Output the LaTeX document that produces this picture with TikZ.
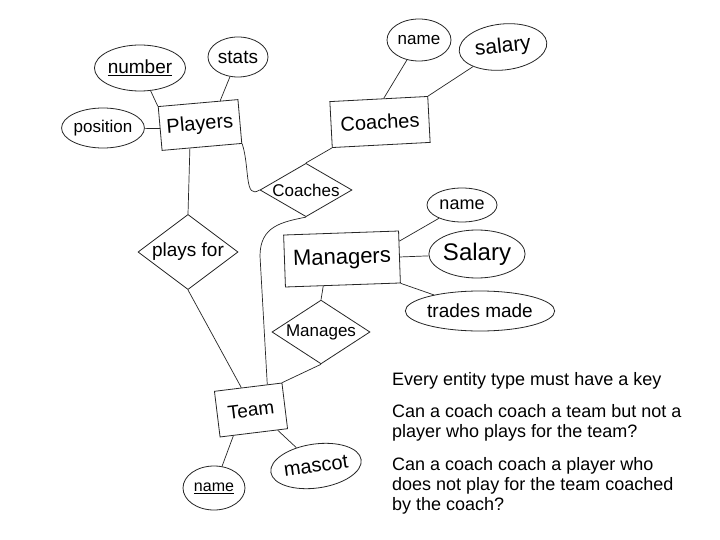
\documentclass[tikz,border=0pt]{standalone}
\usepackage{fontspec}
\setmainfont{Liberation Sans}
\usetikzlibrary{shapes.geometric,calc}
\begin{document}
\begin{tikzpicture}[x=1pt,y=-1pt,
  fs/.style={font=\fontsize{#1}{#1}\selectfont},
  ink/.style={draw=black!85, line width=0.8pt},
  entity/.style={ink, rectangle, inner sep=0pt},
  attr/.style={ink, ellipse, inner sep=0pt},
  rel/.style={ink, diamond, inner sep=0pt},
  link/.style={draw=black!85, line width=0.7pt},
  note/.style={anchor=base west, inner sep=0pt, fs=18}]
\useasboundingbox[fill=white] (0,0) rectangle (720,540);

% entities
\node[entity, minimum width=80pt, minimum height=44pt, rotate=5, fs=20] (players) at (200,125) {Players};
\node[entity, minimum width=98pt, minimum height=46pt, rotate=3, fs=20] (coaches) at (380,122) {Coaches};
\node[entity, minimum width=115pt, minimum height=52pt, rotate=2, fs=22] (managers) at (342,259) {Managers};
\node[entity, minimum width=68pt, minimum height=46pt, rotate=7, fs=19] (team) at (251,410) {Team};

% attributes
\node[attr, minimum width=82pt, minimum height=46pt, fs=19] (number) at (140,68) {\underline{number}};
\node[attr, minimum width=60pt, minimum height=40pt, fs=19] (stats) at (238,57) {stats};
\node[attr, minimum width=80pt, minimum height=40pt, fs=17] (position) at (103,128) {position};
\node[attr, minimum width=64pt, minimum height=42pt, fs=17] (cname) at (419,40) {name};
\node[attr, minimum width=88pt, minimum height=46pt, rotate=6, fs=21] (csal) at (503,47) {salary};
\node[attr, minimum width=70pt, minimum height=34pt, fs=18] (mname) at (462,205) {name};
\node[attr, minimum width=94pt, minimum height=48pt, fs=24] (msal) at (477,254) {Salary};
\node[attr, minimum width=130pt, minimum height=40pt, fs=19] (trades) at (480,311) {trades made};
\node[attr, minimum width=62pt, minimum height=44pt, fs=16] (tname) at (214,488) {\underline{name}};
\node[attr, minimum width=78pt, minimum height=44pt, rotate=8, fs=20] (mascot) at (316,466) {mascot};

% relationships
\node[rel, aspect=1.25, minimum width=100pt, fs=19] (playsfor) at (188,252) {plays for};
\node[rel, aspect=1.64, minimum width=92pt, fs=17] (cdiam) at (306,190) {Coaches};
\node[rel, aspect=1.44, minimum width=98pt, fs=17] (mdiam) at (321,332) {Manages};

% attribute links
\draw[link] (number) -- (players.north west);
\draw[link] (stats) -- ($(players.north)!0.55!(players.north east)$);
\draw[link] (position) -- (players.west);
\draw[link] (cname) -- ($(coaches.north west)!0.55!(coaches.north east)$);
\draw[link] (csal) -- (coaches.north east);
\draw[link] (mname) -- ($(managers.north east)!0.2!(managers.south east)$);
\draw[link] (msal) -- (managers.east);
\draw[link] (trades) -- (managers.south east);
\draw[link] (tname) -- ($(team.south west)!0.2!(team.south east)$);
\draw[link] (mascot) -- ($(team.south west)!0.85!(team.south east)$);

% relationship links
\draw[link] ($(players.south west)!0.35!(players.south east)$) -- (playsfor.north);
\draw[link] (playsfor.south) -- ($(team.north west)!0.4!(team.north east)$);
\draw[link] (players.south east) .. controls (250,168) and (244,200) .. (cdiam.west);
\draw[link] (coaches.south west) -- (cdiam.north);
\draw[link] (cdiam.south) .. controls (282,222) and (260,226) .. (260,256) -- ($(team.north west)!0.78!(team.north east)$);
\draw[link] ($(managers.south west)!0.33!(managers.south east)$) -- (mdiam.north);
\draw[link] (mdiam.south) -- (team.north east);

% notes
\node[note] (n1) at (392,385) {Every entity type must have a key};
\node[note] (n2) at (392,417) {Can a coach coach a team but not a};
\node[note] (n3) at (392,437.5) {player who plays for the team?};
\node[note] (n4) at (392,470) {Can a coach coach a player who};
\node[note] (n5) at (392,490) {does not play for the team coached};
\node[note] (n6) at (392,510) {by the coach?};
\end{tikzpicture}
\end{document}
